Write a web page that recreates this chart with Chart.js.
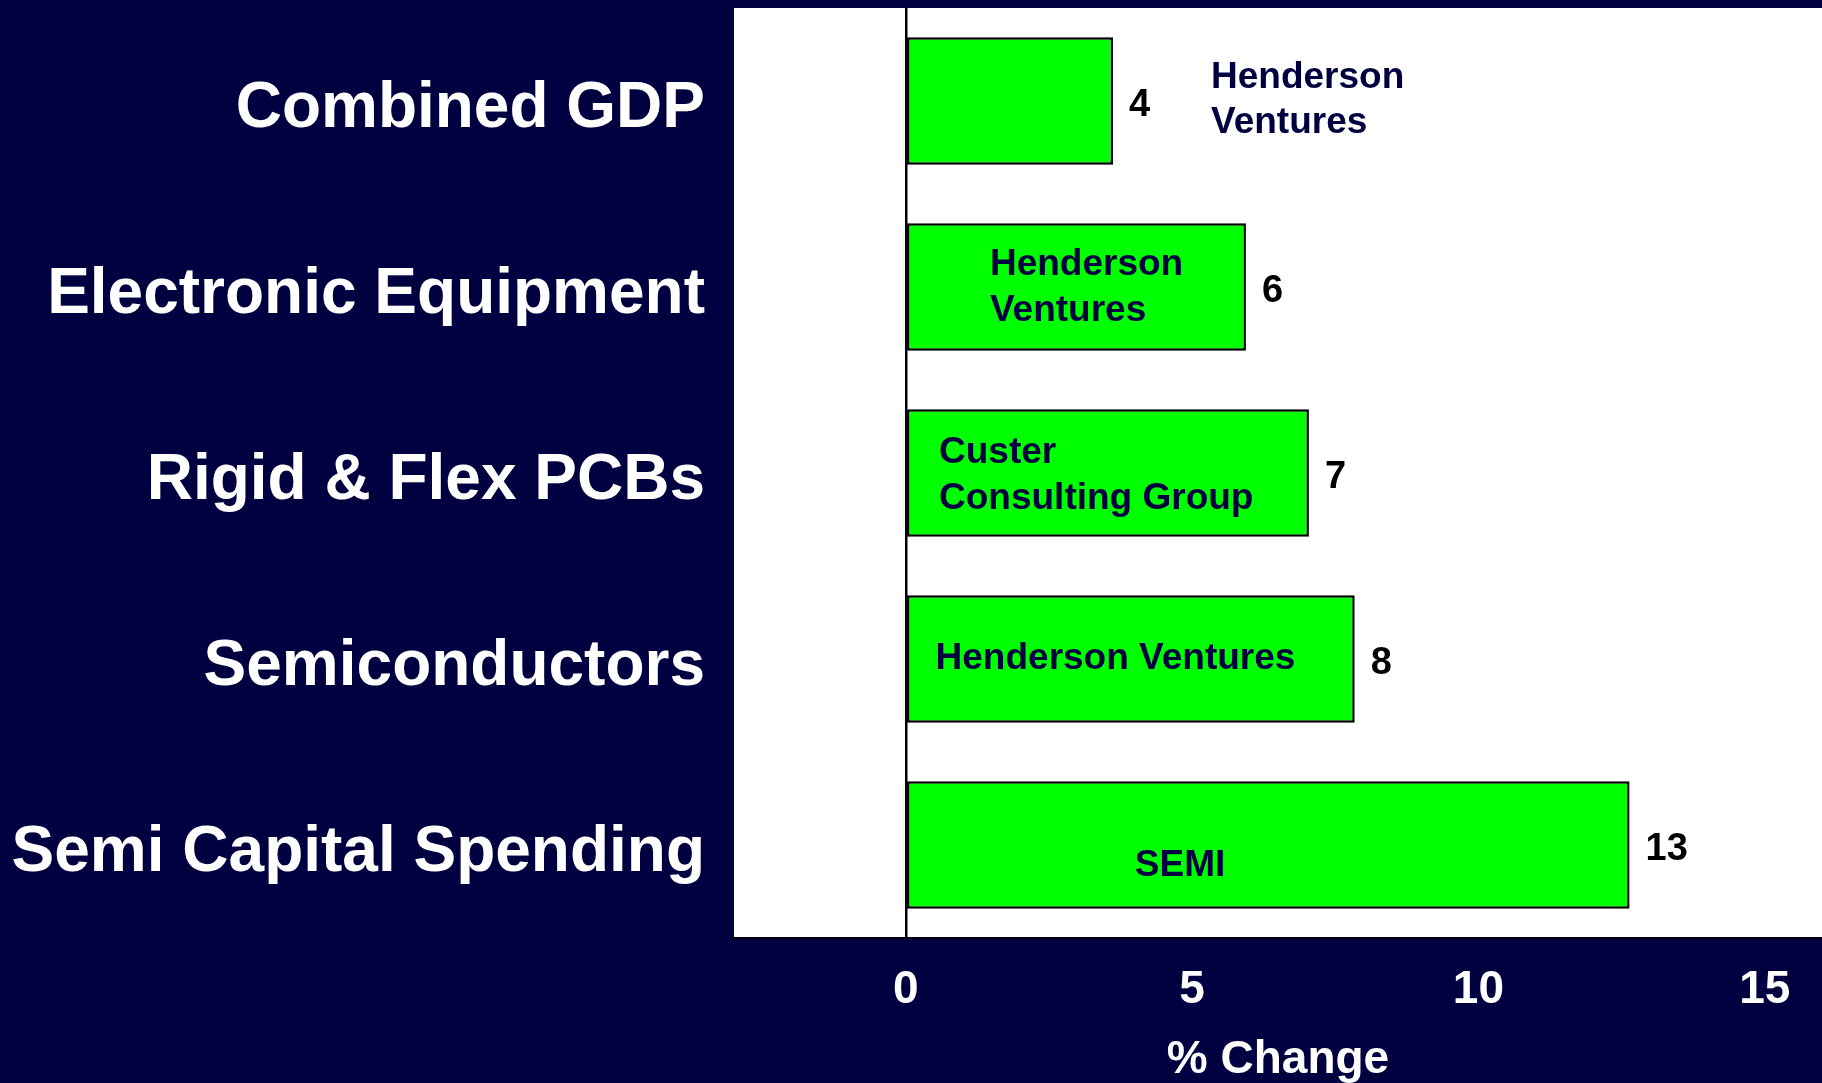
<!DOCTYPE html>
<html>
<head>
<meta charset="utf-8">
<script src="https://cdn.jsdelivr.net/npm/chart.js@4.4.1/dist/chart.umd.min.js"></script>
<style>
  html, body { margin: 0; padding: 0; background: #000040; }
  #wrap { position: relative; width: 1822px; height: 1083px; }
</style>
</head>
<body>
<div id="wrap"><canvas id="c"></canvas></div>
<script>
// ---- data ----
const categories = ['Combined GDP', 'Electronic Equipment', 'Rigid & Flex PCBs', 'Semiconductors', 'Semi Capital Spending'];
const changeValues = [3.62, 5.94, 7.04, 7.84, 12.64];
const valueLabels = ['4', '6', '7', '8', '13'];
const sourceLabels = [
  ['Henderson', 'Ventures'],
  ['Henderson', 'Ventures'],
  ['Custer', 'Consulting Group'],
  ['Henderson Ventures'],
  ['SEMI']
];
const xTickValues = [0, 5, 10, 15];
const xAxisTitle = '% Change';

// ---- layout / style (not data) ----
const FONT = '"Liberation Sans", Arial, Helvetica, sans-serif';
const NAVY = '#000040';
const sourceLayout = {
  anchorX: [5.33, 1.47, 0.58, 0.52, 4.79],      // in axis units
  align:   ['left', 'left', 'left', 'left', 'center'],
  firstLineDy: [-26.5, -25, -23, -3.5, 17.5],   // cap-centre offset, px from bar centre
  lineGap: 45.5,
  size: 37
};
const VALUE_SIZE = 38;

const plotBackground = {
  id: 'plotBackground',
  beforeDraw(chart) {
    const { ctx, chartArea: a } = chart;
    ctx.save();
    ctx.fillStyle = '#ffffff';
    ctx.fillRect(a.left, a.top, a.right - a.left, a.bottom - a.top);
    ctx.restore();
  }
};

const barTexts = {
  id: 'barTexts',
  afterDatasetsDraw(chart) {
    const { ctx } = chart;
    const meta = chart.getDatasetMeta(0);
    const xs = chart.scales.x;
    ctx.save();
    ctx.textBaseline = 'alphabetic';
    meta.data.forEach((bar, i) => {
      // value label
      ctx.font = 'bold ' + VALUE_SIZE + 'px ' + FONT;
      ctx.fillStyle = '#000000';
      ctx.textAlign = 'left';
      ctx.fillText(valueLabels[i], bar.x + 16, bar.y + 1 + 0.358 * VALUE_SIZE);
      // source label
      const s = sourceLayout.size;
      ctx.font = 'bold ' + s + 'px ' + FONT;
      ctx.fillStyle = NAVY;
      ctx.textAlign = sourceLayout.align[i];
      const px = xs.getPixelForValue(sourceLayout.anchorX[i]);
      sourceLabels[i].forEach((line, k) => {
        const capCentre = bar.y + sourceLayout.firstLineDy[i] + k * sourceLayout.lineGap;
        ctx.fillText(line, px, capCentre + 0.358 * s);
      });
    });
    ctx.restore();
  }
};

new Chart(document.getElementById('c'), {
  type: 'bar',
  data: {
    labels: categories,
    datasets: [{
      data: changeValues,
      backgroundColor: '#00ff00',
      borderColor: '#000000',
      borderWidth: 2.5,
      borderSkipped: false,
      barPercentage: 0.685,
      categoryPercentage: 1.0
    }]
  },
  options: {
    indexAxis: 'y',
    responsive: true,
    maintainAspectRatio: false,
    animation: false,
    layout: { padding: { top: 8, right: 0, bottom: 0, left: 0 } },
    plugins: {
      legend: { display: false },
      tooltip: { enabled: false }
    },
    scales: {
      x: {
        type: 'linear',
        min: -3,
        max: 16,
        afterBuildTicks(scale) {
          scale.ticks = xTickValues.map(v => ({ value: v }));
        },
        afterFit(scale) {
          scale.height = 145;
          scale.paddingLeft = 0;
          scale.paddingRight = 0;
        },
        grid: {
          drawTicks: false,
          color: c => (c.tick && c.tick.value === 0 ? '#000000' : 'rgba(0,0,0,0)'),
          lineWidth: 2.5
        },
        border: { display: true, color: '#000000', width: 2 },
        ticks: {
          color: '#ffffff',
          padding: 25,
          maxRotation: 0,
          font: { family: FONT, size: 46, weight: 'bold' }
        },
        title: {
          display: true,
          text: xAxisTitle,
          color: '#ffffff',
          padding: { top: 0, bottom: 0 },
          font: { family: FONT, size: 46, weight: 'bold', lineHeight: 1 }
        }
      },
      y: {
        type: 'category',
        afterFit(scale) {
          scale.width = 734;
          scale.paddingTop = 0;
          scale.paddingBottom = 0;
        },
        grid: { display: false, drawTicks: false },
        border: { display: false },
        ticks: {
          color: '#ffffff',
          padding: 29,
          labelOffset: 8,
          autoSkip: false,
          font: { family: FONT, size: 64, weight: 'bold' }
        }
      }
    }
  },
  plugins: [plotBackground, barTexts]
});
</script>
</body>
</html>
